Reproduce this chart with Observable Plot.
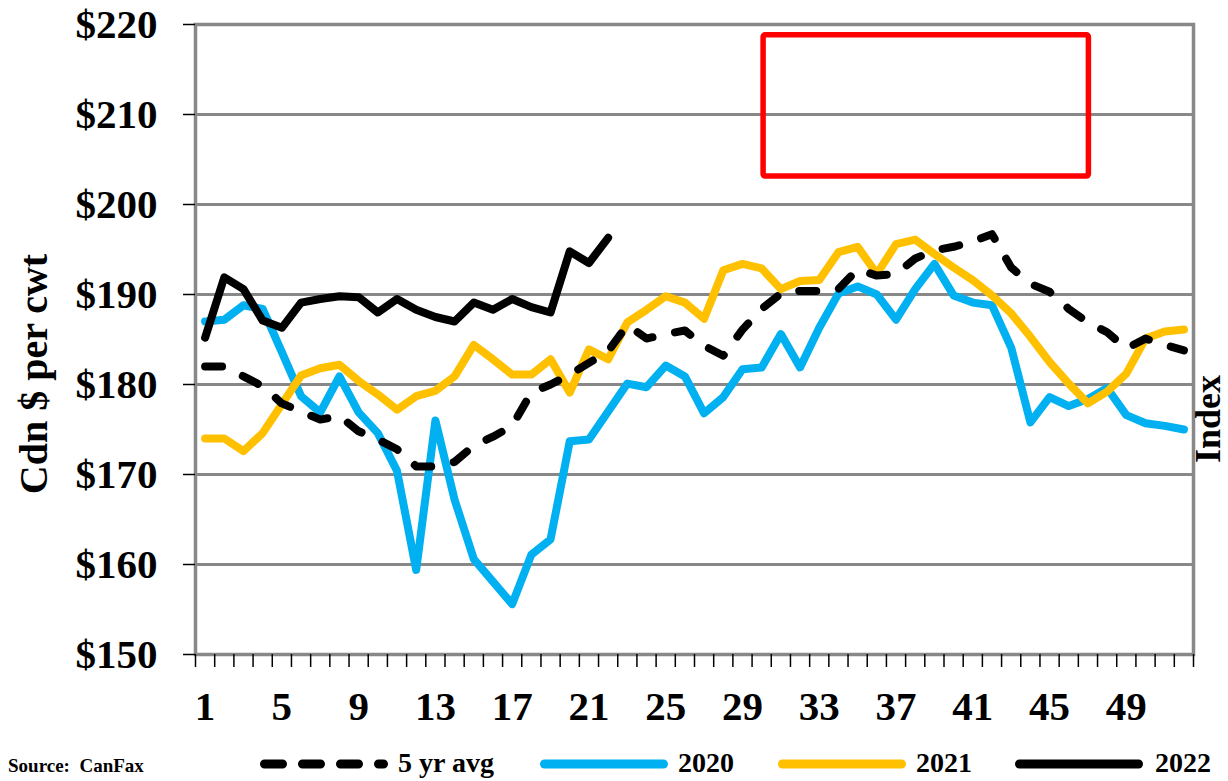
<!DOCTYPE html>
<html><head><meta charset="utf-8">
<script src="https://cdn.jsdelivr.net/npm/d3@7"></script>
<script src="https://cdn.jsdelivr.net/npm/@observablehq/plot@0.6"></script>
<style>
body{margin:0;background:#fff;}
#wrap{position:relative;width:1228px;height:781px;font-family:"Liberation Serif","Times New Roman",serif;font-weight:bold;color:#000;overflow:hidden;}
#chart{position:absolute;left:0;top:0;}
.lg{position:absolute;font-size:28px;line-height:28px;white-space:pre;}
.src{position:absolute;left:8px;top:756px;font-size:19px;line-height:19px;white-space:pre;}
.rot{position:absolute;white-space:pre;writing-mode:vertical-rl;transform:translate(-50%,-50%) rotate(180deg);}
svg.sw{position:absolute;overflow:visible;}
</style></head><body>
<div id="wrap"><div id="chart"></div><div id="legend"></div></div>
<script>
const weeks = d3.range(1, 53);
const avg5 = [182.0,182.0,180.9,179.8,177.9,177.0,176.1,176.5,174.8,173.9,172.8,170.9,170.9,171.4,173.2,174.2,175.4,179.1,180.0,181.1,182.4,183.7,186.6,185.1,185.6,186.0,184.3,183.2,186.1,188.4,190.1,190.4,190.4,190.6,192.8,192.1,192.3,194.0,194.9,195.3,195.9,196.7,193.0,191.2,190.3,188.4,186.9,185.8,184.0,185.1,184.4,183.8];
const y2020 = [187.0,187.2,188.8,188.4,183.6,178.7,176.9,180.9,176.9,174.6,170.4,159.4,176.0,167.2,160.6,158.1,155.6,161.1,162.8,173.7,173.9,177.0,180.1,179.7,182.1,180.9,176.8,178.6,181.7,181.9,185.6,181.9,186.3,190.1,190.9,190.0,187.2,190.6,193.4,189.9,189.1,188.8,184.1,175.8,178.6,177.6,178.4,179.6,176.6,175.7,175.4,175.0];
const y2021 = [174.0,174.0,172.6,174.6,177.8,181.0,181.8,182.2,180.4,178.9,177.2,178.7,179.3,180.9,184.4,182.8,181.1,181.1,182.8,179.1,183.9,182.8,186.9,188.3,189.8,189.1,187.3,192.7,193.4,192.9,190.6,191.5,191.6,194.7,195.3,192.3,195.6,196.1,194.5,193.0,191.6,189.9,187.9,185.3,182.5,180.1,177.9,179.2,181.2,185.1,185.9,186.1];
const y2022 = [185.2,191.9,190.6,187.1,186.3,189.1,189.5,189.8,189.7,188.0,189.5,188.3,187.5,187.0,189.1,188.3,189.5,188.6,188.0,194.8,193.5,196.3];
const yTicks = d3.range(150, 221, 10);
const xLabelWeeks = [1,5,9,13,17,21,25,29,33,37,41,45,49];
const xTickEdges = d3.range(0.5, 53, 1);
const boxWeeks = [30.1, 47.05];
const boxPrices = [203.1, 218.8];
const yTitle = "Cdn $ per cwt";
const rightTitle = "Index";
const sourceText = "Source:  CanFax";

const names = ["5 yr avg", "2020", "2021", "2022"];
const colors = ["#000000", "#00B0F0", "#FFC000", "#000000"];
const dashes = ["17 23", null, null, null];
const values = [avg5, y2020, y2021, y2022];

const toRows = (arr) => arr.map((v, i) => ({week: weeks[i], price: v}));
const drawOrder = [1, 2, 0, 3];

const FONT = "Liberation Serif, Times New Roman, serif";

const chart = Plot.plot({
  width: 1228,
  height: 740,
  marginLeft: 195,
  marginRight: 35,
  marginTop: 24,
  marginBottom: 86,
  style: {fontFamily: FONT, fontWeight: "bold", background: "#fff", overflow: "visible"},
  x: {type: "linear", domain: [0.5, 52.5]},
  y: {domain: [150, 220]},
  marks: [
    Plot.gridY(yTicks, {stroke: "#888", strokeOpacity: 1, strokeWidth: 3}),
    Plot.frame({stroke: "#888", strokeWidth: 3.5}),
    Plot.rect([{x1: boxWeeks[0], x2: boxWeeks[1], y1: boxPrices[0], y2: boxPrices[1]}],
      {x1: "x1", x2: "x2", y1: "y1", y2: "y2", fill: "none", stroke: "#FF0000", strokeWidth: 5.5, rx: 2}),
    Plot.axisY({ticks: yTicks, tickFormat: d => "$" + d, tickSize: 12, tickPadding: 26,
      fontSize: 41, fontWeight: "bold", label: null, strokeWidth: 1.5}),
    Plot.axisX({ticks: xTickEdges, tickSize: 13, tickFormat: () => "", label: null, strokeWidth: 1.5}),
    Plot.axisX({ticks: xLabelWeeks, tickSize: 0, tickPadding: 36, tickFormat: d => String(d),
      fontSize: 41, fontWeight: "bold", label: null}),
    ...drawOrder.map(k => Plot.line(toRows(values[k]), {
      x: "week", y: "price", stroke: colors[k], strokeWidth: 8,
      strokeLinejoin: "round", strokeLinecap: "round",
      strokeDasharray: dashes[k] ?? undefined
    }))
  ]
});
document.getElementById("chart").appendChild(chart);

const wrap = document.getElementById("wrap");
function addRotated(text, cx, cy, size, lh) {
  const d = document.createElement("div");
  d.className = "rot";
  d.textContent = text;
  d.style.left = cx + "px";
  d.style.top = cy + "px";
  d.style.fontSize = size + "px";
  d.style.lineHeight = lh + "px";
  wrap.appendChild(d);
}
addRotated(yTitle, 34, 374, 40, 40);
addRotated(rightTitle, 1208, 419, 36, 28);

// legend
const legend = document.getElementById("legend");
const legendX = [260, 540, 778, 1015];
const legendTextX = [398, 678, 916, 1155];
const legendY = 764;
names.forEach((n, k) => {
  const ns = "http://www.w3.org/2000/svg";
  const s = document.createElementNS(ns, "svg");
  s.setAttribute("class", "sw");
  s.setAttribute("width", 128);
  s.setAttribute("height", 10);
  s.style.left = legendX[k] + "px";
  s.style.top = (legendY - 5) + "px";
  const l = document.createElementNS(ns, "line");
  l.setAttribute("x1", 4.5); l.setAttribute("x2", 123.5);
  l.setAttribute("y1", 5); l.setAttribute("y2", 5);
  l.setAttribute("stroke", colors[k]);
  l.setAttribute("stroke-width", 9);
  l.setAttribute("stroke-linecap", "round");
  if (dashes[k]) l.setAttribute("stroke-dasharray", "18 20");
  s.appendChild(l);
  legend.appendChild(s);
  const t = document.createElement("div");
  t.className = "lg";
  t.textContent = n;
  t.style.left = legendTextX[k] + "px";
  t.style.top = (legendY - 15) + "px";
  legend.appendChild(t);
});
const src = document.createElement("div");
src.className = "src";
src.textContent = sourceText;
legend.appendChild(src);
</script>
</body></html>
